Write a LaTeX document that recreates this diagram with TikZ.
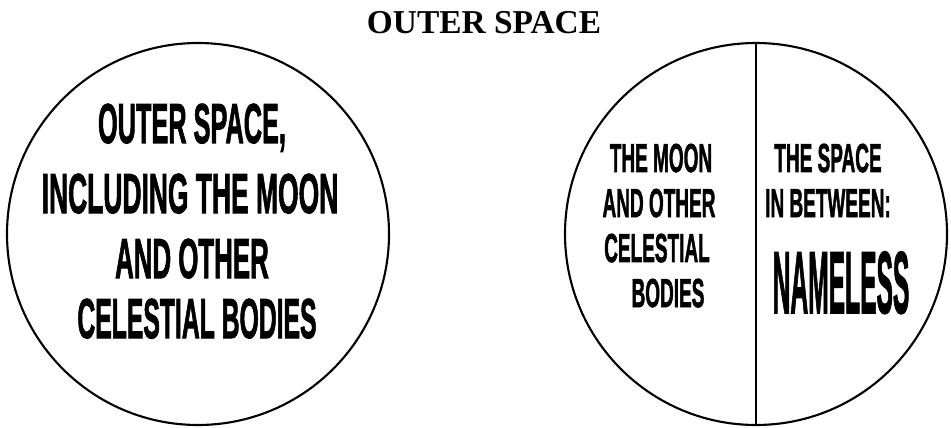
\documentclass[tikz,border=0pt]{standalone}
\usepackage{fontspec}
\setmainfont{Liberation Serif}
\setsansfont{Liberation Sans}
\newfontfamily\heavyfont{Liberation Sans Bold}[FakeBold=2]
\usepackage{tikz}
\usetikzlibrary{positioning}
\definecolor{ink}{HTML}{000000}
\newcommand{\squeeze}[2]{\scalebox{#1}[1]{#2}}
\tikzset{ring/.style={draw=ink,line width=1.2pt},bigtxt/.style={anchor=base,inner sep=0pt,text=ink,font=\heavyfont\fontsize{32}{32}\selectfont},smalltxt/.style={anchor=base,inner sep=0pt,text=ink,font=\heavyfont\fontsize{23}{23}\selectfont},titletxt/.style={anchor=base,inner sep=0pt,text=ink,font=\rmfamily\bfseries\fontsize{19}{19}\selectfont}}

\begin{document}
\begin{tikzpicture}
\useasboundingbox (0,0) rectangle (19.02,8.54);
\node[titletxt] (title) at (9.68,7.86) {OUTER SPACE};
% left circle
\node[ring,circle,minimum size=7.64cm,inner sep=0pt] (whole) at (3.96,3.86) {};
\node[bigtxt] (w1) at (3.84,5.68) {\squeeze{.45}{OUTER SPACE,}};
\node[bigtxt] (w2) at (3.80,4.28) {\squeeze{.47}{INCLUDING THE MOON}};
\node[bigtxt] (w3) at (3.84,2.98) {\squeeze{.46}{AND OTHER}};
\node[bigtxt] (w4) at (3.94,1.78) {\squeeze{.44}{CELESTIAL BODIES}};
% right circle, split in two
\node[ring,circle,minimum size=7.64cm,inner sep=0pt] (split) at (15.12,3.86) {};
\draw[ring] (split.north) -- (split.south);
\node[smalltxt] (m1) at (13.22,5.10) {\squeeze{.47}{THE MOON}};
\node[smalltxt] (m2) at (13.18,4.20) {\squeeze{.47}{AND OTHER}};
\node[smalltxt] (m3) at (13.14,3.30) {\squeeze{.47}{CELESTIAL}};
\node[smalltxt] (m4) at (13.36,2.40) {\squeeze{.47}{BODIES}};
\node[smalltxt] (s1) at (16.56,5.10) {\squeeze{.47}{THE SPACE}};
\node[smalltxt] (s2) at (16.56,4.20) {\squeeze{.47}{IN BETWEEN:}};
\node[smalltxt,font=\heavyfont\fontsize{50}{50}\selectfont] (s3) at (16.82,2.28) {\squeeze{.28}{NAMELESS}};
\end{tikzpicture}
\end{document}
